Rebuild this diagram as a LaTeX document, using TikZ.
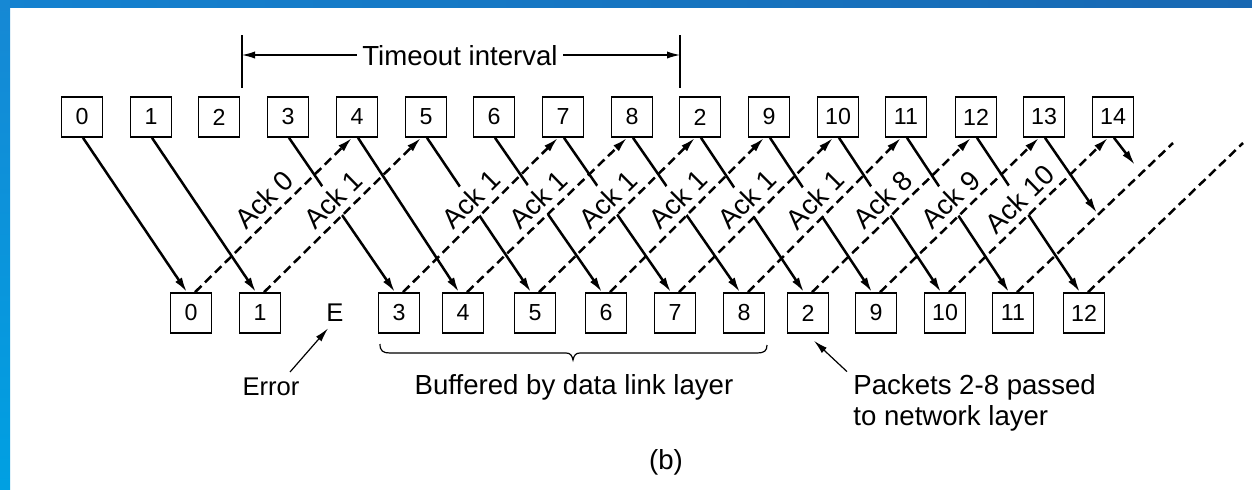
\documentclass[tikz,border=0pt]{standalone}
\usepackage{fontspec}
\setmainfont{Liberation Sans}
\usetikzlibrary{arrows.meta}
\definecolor{bandA}{RGB}{20,130,208}
\definecolor{bandB}{RGB}{24,104,178}
\definecolor{sideA}{RGB}{22,136,212}
\definecolor{sideB}{RGB}{0,160,226}
\begin{document}
\begin{tikzpicture}[x=0.5pt,y=-0.5pt,
  pkt/.style={draw,line width=0.8pt,minimum width=20.5pt,minimum height=20pt,
    inner sep=0pt,font=\fontsize{11.6pt}{13pt}\selectfont},
  lbl/.style={inner sep=0pt,font=\fontsize{13.8pt}{15.5pt}\selectfont},
  small/.style={inner sep=0pt,font=\fontsize{12.8pt}{14pt}\selectfont},
  frame/.style={line width=1.25pt,-{Latex[length=7.5pt,width=4pt]}},
  ackline/.style={line width=1.25pt,dash pattern=on 4.5pt off 2.5pt},
  ack/.style={ackline,-{Latex[length=7.5pt,width=4pt]}},
  acklbl/.style={sloped,above,pos=0.52,fill=white,inner xsep=0.5pt,inner ysep=3.5pt,
    font=\fontsize{13.8pt}{15pt}\selectfont},
  callout/.style={line width=0.6pt,-{Latex[length=7pt,width=3.6pt]}},
  tarrow/.style={line width=0.6pt,-{Latex[length=6.5pt,width=3.6pt]}},
]
\useasboundingbox (0,0) rectangle (1252,489);
\fill[white] (0,0) rectangle (1252,489);
% slide edge bands
\fill[left color=bandA,right color=bandB] (0,0) rectangle (1252,7);
\fill[top color=sideA,bottom color=sideB] (0,0) rectangle (10,489);

% sender row
\foreach \nm/\xx/\tx in {t0/82/0,t1/151/1,t2/219/2,t3/288/3,t4/357/4,t5/426/5,t6/494/6,
    t7/563/7,t8/632/8,t2r/700/2,t9/769/9,t10/838/10,t11/906/11,t12/976/12,t13/1044/13,t14/1113/14}
  \node[pkt] (\nm) at (\xx,117) {\tx};

% receiver row
\foreach \nm/\xx/\tx in {b0/191/0,b1/260/1,b3/399/3,b4/463/4,b5/535/5,b6/606/6,b7/675/7,
    b8/744/8,b2r/808/2,b9/876/9,b10/945/10,b11/1013/11,b12/1084/12}
  \node[pkt] (\nm) at (\xx,313) {\tx};

\node[small,anchor=base] (E) at (335,321) {E};

% free ends of the frames and acks still in flight
\coordinate (e13) at (1097,213);
\coordinate (e14) at (1135,165);
\coordinate (e11) at (1173,143);
\coordinate (e12) at (1243,143);

% data frames
\foreach \a/\b in {t0/b0,t1/b1,t3/b3,t4/b4,t5/b5,t6/b6,t7/b7,t8/b8,t2r/b2r,t9/b9,t10/b10,t11/b11,t12/b12}
  \draw[frame] ([xshift=0.5pt]\a.south) -- ([xshift=-2pt]\b.north);
\draw[frame] ([xshift=0.5pt]t13.south) -- (e13);
\draw[frame] ([xshift=0.5pt]t14.south) -- (e14);

% ack labels (white backing interrupts the frame lines)
\foreach \a/\b/\s in {b0/t4/Ack 0,b1/t5/Ack 1,b3/t7/Ack 1,b4/t8/Ack 1,b5/t2r/Ack 1,b6/t9/Ack 1,
    b7/t10/Ack 1,b8/t11/Ack 1,b2r/t12/Ack 8,b9/t13/Ack 9,b10/t14/Ack 10}
  \path ([xshift=2pt]\a.north) -- ([xshift=-2.5pt]\b.south) node[acklbl] {\s};

% acknowledgements
\foreach \a/\b in {b0/t4,b1/t5,b3/t7,b4/t8,b5/t2r,b6/t9,b7/t10,b8/t11,b2r/t12,b9/t13,b10/t14}
  \draw[ack] ([xshift=2pt]\a.north) -- ([xshift=-2.5pt]\b.south);
\draw[ackline] ([xshift=2pt]b11.north) -- (e11);
\draw[ackline] ([xshift=2pt]b12.north) -- (e12);

% timeout interval
\node[lbl,anchor=base,inner xsep=2.5pt] (tmo) at (460,65) {Timeout interval};
\coordinate (tl) at (242,55);
\coordinate (tr) at (680,55);
\draw[line width=0.6pt] ([yshift=10pt]tl) -- ([yshift=-16.5pt]tl);
\draw[line width=0.6pt] ([yshift=10pt]tr) -- ([yshift=-16.5pt]tr);
\draw[tarrow] (tmo.west |- tl) -- (tl);
\draw[tarrow] (tmo.east |- tr) -- (tr);

% brace under the buffered frames
\draw[line width=0.6pt] (380,344) .. controls (380,351) and (383,353) .. (390,353) -- (566,353)
  .. controls (570,353) and (572,355) .. (573,360) .. controls (574,355) and (576,353) .. (580,353)
  -- (757,353) .. controls (764,353) and (767,351) .. (767,345);
\node[lbl,anchor=base] (buf) at (574,394) {Buffered by data link layer};

% annotations
\node[small,anchor=base] (err) at (271,395) {Error};
\draw[callout] ([xshift=9.5pt,yshift=2.5pt]err.north) -- ([xshift=-3.5pt,yshift=-3.5pt]E.south);
\node[lbl,anchor=base west,align=left] (pk) at (853,425) {Packets 2-8 passed\\to network layer};
\draw[callout] ([xshift=-3pt,yshift=1pt]pk.north west) -- ([xshift=3pt,yshift=-3.5pt]b2r.south);

\node[lbl,anchor=base] (cap) at (666,469) {(b)};
\end{tikzpicture}
\end{document}
